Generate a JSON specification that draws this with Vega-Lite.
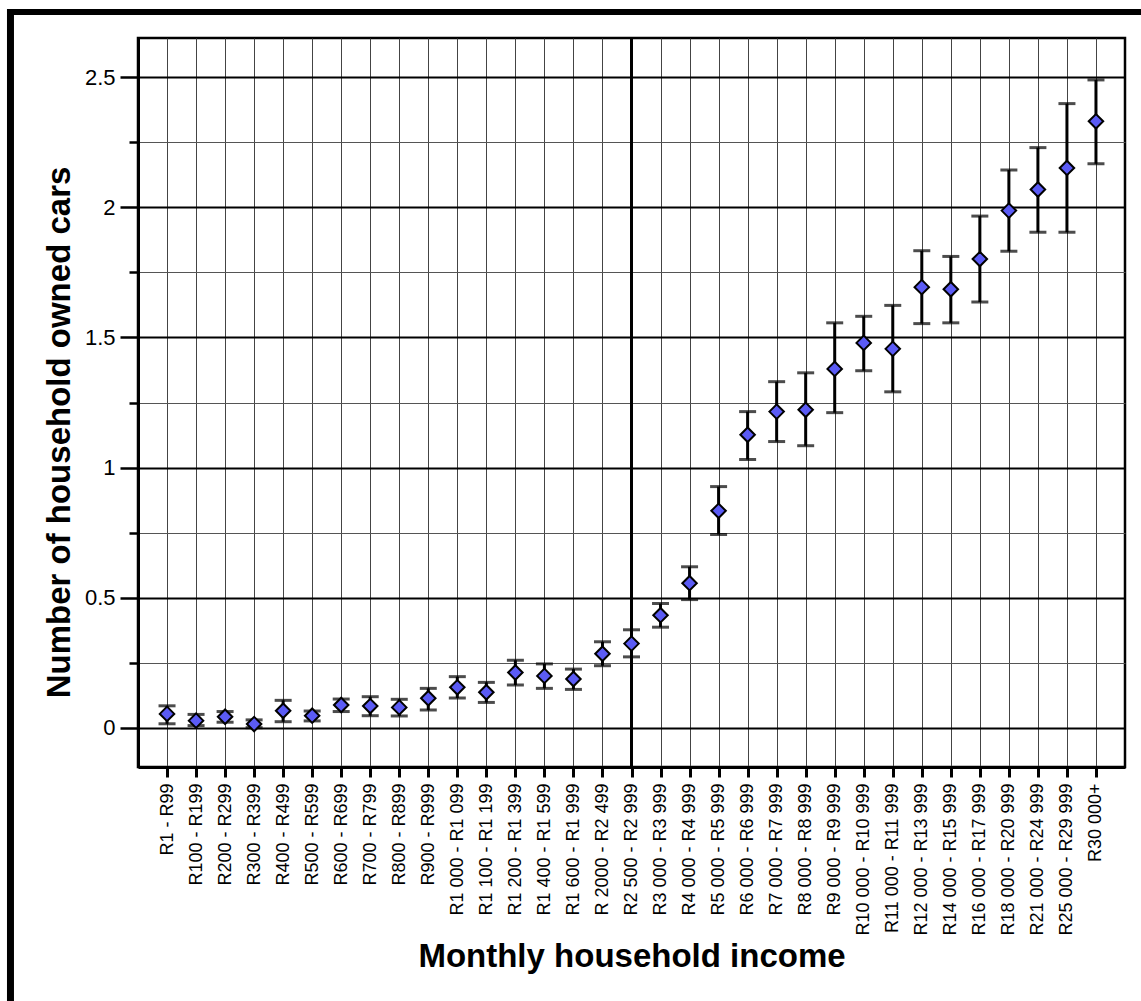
{
  "$schema": "https://vega.github.io/schema/vega-lite/v6.json",
  "width": 987,
  "height": 729,
  "autosize": {"type": "none"},
  "padding": {"left": 138, "top": 38, "right": 16, "bottom": 234},
  "background": "white",
  "config": {
    "view": {"stroke": "black", "strokeWidth": 2.5},
    "axis": {"labelFont": "Liberation Sans", "titleFont": "Liberation Sans", "labelColor": "black", "titleColor": "black"}
  },
  "data": {
    "values": [
      {"cat": "R1 - R99", "mean": 0.054, "lo": 0.016, "hi": 0.085},
      {"cat": "R100 - R199", "mean": 0.028, "lo": 0.009, "hi": 0.052},
      {"cat": "R200 - R299", "mean": 0.043, "lo": 0.022, "hi": 0.063},
      {"cat": "R300 - R399", "mean": 0.015, "lo": 0.001, "hi": 0.031},
      {"cat": "R400 - R499", "mean": 0.066, "lo": 0.024, "hi": 0.106},
      {"cat": "R500 - R599", "mean": 0.047, "lo": 0.027, "hi": 0.065},
      {"cat": "R600 - R699", "mean": 0.088, "lo": 0.063, "hi": 0.111},
      {"cat": "R700 - R799", "mean": 0.084, "lo": 0.047, "hi": 0.12},
      {"cat": "R800 - R899", "mean": 0.079, "lo": 0.046, "hi": 0.11},
      {"cat": "R900 - R999", "mean": 0.114, "lo": 0.069, "hi": 0.152},
      {"cat": "R1 000 - R1 099", "mean": 0.156, "lo": 0.115, "hi": 0.197},
      {"cat": "R1 100 - R1 199", "mean": 0.137, "lo": 0.098, "hi": 0.175},
      {"cat": "R1 200 - R1 399", "mean": 0.213, "lo": 0.165, "hi": 0.26},
      {"cat": "R1 400 - R1 599", "mean": 0.2, "lo": 0.152, "hi": 0.246},
      {"cat": "R1 600 - R1 999", "mean": 0.188, "lo": 0.148, "hi": 0.226},
      {"cat": "R 2000 - R2 499", "mean": 0.285, "lo": 0.239, "hi": 0.331},
      {"cat": "R2 500 - R2 999", "mean": 0.324, "lo": 0.273, "hi": 0.377},
      {"cat": "R3 000 - R3 999", "mean": 0.433, "lo": 0.387, "hi": 0.478},
      {"cat": "R4 000 - R4 999", "mean": 0.556, "lo": 0.493, "hi": 0.619},
      {"cat": "R5 000 - R5 999", "mean": 0.834, "lo": 0.743, "hi": 0.927},
      {"cat": "R6 000 - R6 999", "mean": 1.126, "lo": 1.031, "hi": 1.215},
      {"cat": "R7 000 - R7 999", "mean": 1.215, "lo": 1.1, "hi": 1.33},
      {"cat": "R8 000 - R8 999", "mean": 1.222, "lo": 1.084, "hi": 1.364},
      {"cat": "R9 000 - R9 999", "mean": 1.379, "lo": 1.211, "hi": 1.556},
      {"cat": "R10 000 - R10 999", "mean": 1.479, "lo": 1.372, "hi": 1.581},
      {"cat": "R11 000 - R11 999", "mean": 1.456, "lo": 1.291, "hi": 1.623},
      {"cat": "R12 000 - R13 999", "mean": 1.693, "lo": 1.553, "hi": 1.833},
      {"cat": "R14 000 - R15 999", "mean": 1.685, "lo": 1.556, "hi": 1.811},
      {"cat": "R16 000 - R17 999", "mean": 1.801, "lo": 1.636, "hi": 1.966},
      {"cat": "R18 000 - R20 999", "mean": 1.987, "lo": 1.831, "hi": 2.143},
      {"cat": "R21 000 - R24 999", "mean": 2.068, "lo": 1.904, "hi": 2.229},
      {"cat": "R25 000 - R29 999", "mean": 2.151, "lo": 1.904, "hi": 2.398},
      {"cat": "R30 000+", "mean": 2.33, "lo": 2.167, "hi": 2.489}
    ]
  },
  "resolve": {"scale": {"x": "independent"}},
  "layer": [
    {
      "layer": [
        {
          "transform": [{"filter": "datum.cat === 'R2 500 - R2 999'"}],
          "mark": {"type": "rule", "color": "black", "strokeWidth": 3},
          "encoding": {
            "x": {
              "field": "cat", "type": "nominal",
              "scale": {"type": "point", "padding": 2.34, "domain": ["R1 - R99", "R100 - R199", "R200 - R299", "R300 - R399", "R400 - R499", "R500 - R599", "R600 - R699", "R700 - R799", "R800 - R899", "R900 - R999", "R1 000 - R1 099", "R1 100 - R1 199", "R1 200 - R1 399", "R1 400 - R1 599", "R1 600 - R1 999", "R 2000 - R2 499", "R2 500 - R2 999", "R3 000 - R3 999", "R4 000 - R4 999", "R5 000 - R5 999", "R6 000 - R6 999", "R7 000 - R7 999", "R8 000 - R8 999", "R9 000 - R9 999", "R10 000 - R10 999", "R11 000 - R11 999", "R12 000 - R13 999", "R14 000 - R15 999", "R16 000 - R17 999", "R18 000 - R20 999", "R21 000 - R24 999", "R25 000 - R29 999", "R30 000+"]},
              "title": "Monthly household income",
              "axis": {
                "labelAngle": -90, "labelFontSize": 18, "labelPadding": 6, "labelOverlap": false, "labelLimit": 400,
                "tickSize": 10, "tickWidth": 3, "tickColor": "black",
                "grid": true, "gridColor": "#444", "gridWidth": 1,
                "domainColor": "black", "domainWidth": 3,
                "titleFontSize": 33, "titleFontWeight": "bold", "titlePadding": 5
              }
            }
          }
        },
        {
          "mark": {"type": "rule", "color": "black", "strokeWidth": 3},
          "encoding": {
            "x": {"field": "cat", "type": "nominal"},
            "y": {
              "field": "lo", "type": "quantitative",
              "scale": {"domain": [-0.15, 2.65], "nice": false, "zero": false},
              "title": "Number of household owned cars",
              "axis": {
                "values": [0, 0.25, 0.5, 0.75, 1, 1.25, 1.5, 1.75, 2, 2.25, 2.5],
                "labelExpr": "datum.value % 0.5 === 0 ? '' + datum.value : ''",
                "grid": true,
                "gridColor": {"condition": {"test": "datum.value % 0.5 === 0", "value": "black"}, "value": "#555"},
                "gridWidth": {"condition": {"test": "datum.value % 0.5 === 0", "value": 2}, "value": 1},
                "tickSize": {"condition": {"test": "datum.value % 0.5 === 0", "value": 18}, "value": 9},
                "tickWidth": 2.5, "tickColor": "black",
                "labelFontSize": 22, "labelPadding": 5,
                "domainColor": "black", "domainWidth": 3,
                "titleFontSize": 33, "titleFontWeight": "bold", "titlePadding": 8, "titleY": 394
              }
            },
            "y2": {"field": "hi"}
          }
        },
        {
          "mark": {"type": "tick", "color": "black", "size": 17, "thickness": 3},
          "encoding": {
            "x": {"field": "cat", "type": "nominal"},
            "y": {"field": "lo", "type": "quantitative"}
          }
        },
        {
          "mark": {"type": "tick", "color": "black", "size": 17, "thickness": 3},
          "encoding": {
            "x": {"field": "cat", "type": "nominal"},
            "y": {"field": "hi", "type": "quantitative"}
          }
        },
        {
          "mark": {"type": "point", "shape": "diamond", "filled": true, "fill": "#5b5bf5", "stroke": "black", "strokeWidth": 2, "size": 210, "opacity": 1},
          "encoding": {
            "x": {"field": "cat", "type": "nominal"},
            "y": {"field": "mean", "type": "quantitative"}
          }
        }
      ]
    },
    {
      "data": {"values": [{"part": "top"}]},
      "mark": {"type": "rule", "color": "black", "strokeWidth": 6, "clip": false},
      "encoding": {
        "x": {"datum": -0.1327, "type": "quantitative", "scale": {"domain": [0, 1], "nice": false, "zero": false}, "axis": null},
        "x2": {"datum": 1.0162},
        "y": {"datum": 2.75, "type": "quantitative"}
      }
    },
    {
      "data": {"values": [{"part": "left"}]},
      "mark": {"type": "rule", "color": "black", "strokeWidth": 7, "clip": false},
      "encoding": {
        "x": {"datum": -0.1292, "type": "quantitative", "scale": {"domain": [0, 1], "nice": false, "zero": false}, "axis": null},
        "y": {"datum": 2.761, "type": "quantitative"},
        "y2": {"datum": -1.06}
      }
    }
  ]
}
